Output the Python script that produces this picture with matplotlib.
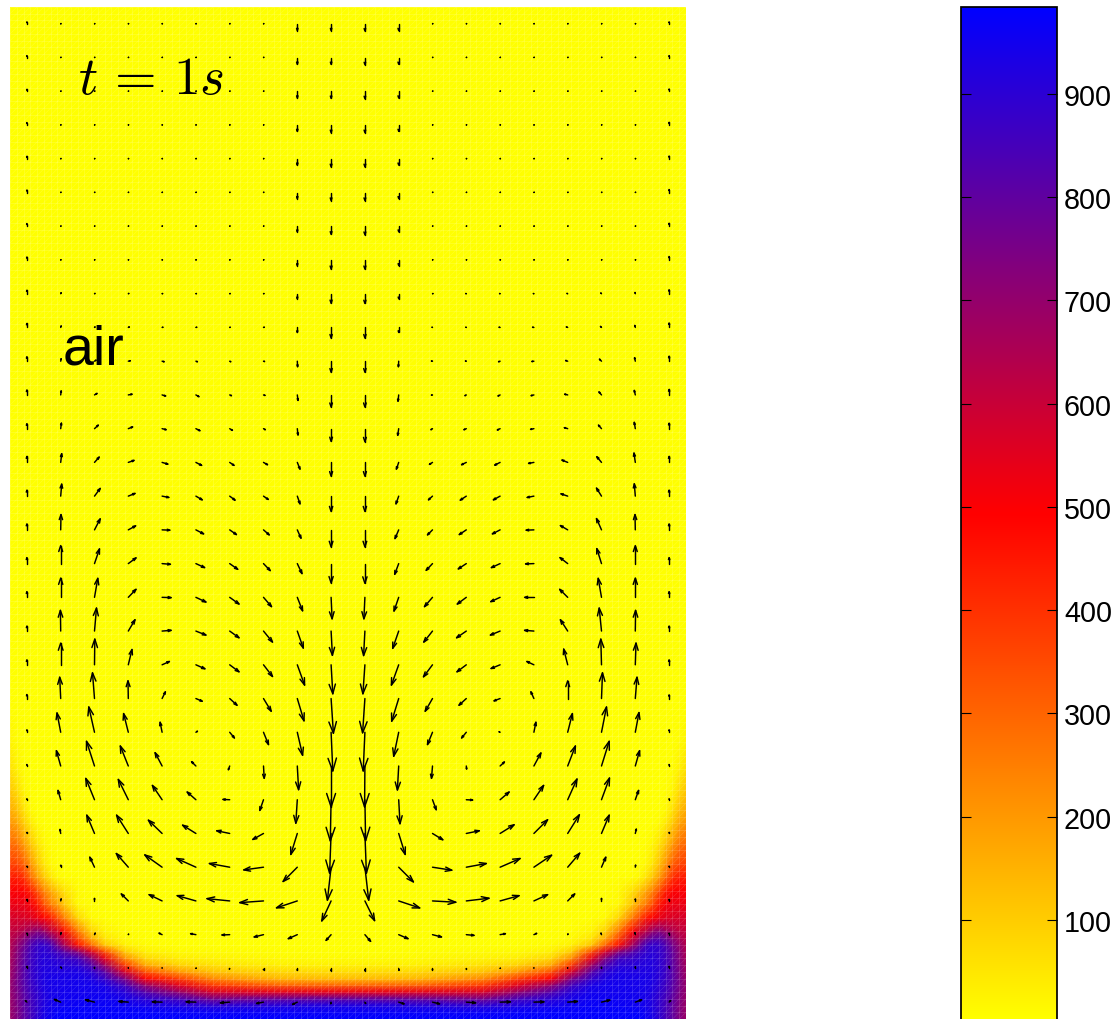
import matplotlib
matplotlib.use('Agg')
import matplotlib.pyplot as plt
import numpy as np
from matplotlib.collections import LineCollection
from matplotlib.colors import LinearSegmentedColormap

plt.rcParams['font.family'] = ['Liberation Sans', 'DejaVu Sans']
plt.rcParams['mathtext.fontset'] = 'cm'

# === temperature (left half, the right half is its mirror) ===
# node positions in mesh cells, the domain is 100 x 150 cells
temp_x = [0, 1, 2, 3, 4, 5, 6, 7, 8, 10, 12, 14, 17, 20, 25, 30, 40, 50]
temp_y = [0, 1, 2, 3, 4, 5, 6, 7, 8, 9, 10, 11, 12, 13, 15, 17, 19, 21, 23, 26, 29, 31, 34, 37, 41, 46, 50, 150]
temp = [
    [690, 740, 800, 850, 900, 940, 965, 984, 984, 984, 984, 984, 984, 984, 984, 984, 984, 984],
    [690, 740, 800, 850, 895, 935, 960, 975, 980, 982, 982, 982, 982, 982, 975, 970, 970, 970],
    [690, 740, 800, 850, 890, 925, 945, 955, 960, 965, 968, 970, 960, 945, 925, 900, 920, 930],
    [690, 745, 800, 850, 890, 920, 940, 950, 955, 958, 960, 960, 940, 900, 850, 760, 790, 800],
    [695, 750, 810, 860, 895, 925, 940, 945, 950, 950, 950, 950, 910, 820, 700, 570, 545, 540],
    [695, 755, 815, 865, 900, 930, 940, 945, 945, 950, 950, 935, 850, 700, 550, 390, 310, 300],
    [690, 755, 820, 870, 905, 930, 940, 940, 940, 945, 930, 880, 740, 500, 370, 230, 140, 130],
    [680, 750, 815, 870, 905, 925, 930, 930, 930, 935, 900, 810, 570, 340, 200, 120, 80, 70],
    [670, 740, 810, 865, 900, 920, 920, 915, 905, 900, 830, 680, 380, 170, 90, 60, 32, 30],
    [660, 730, 800, 860, 895, 915, 910, 895, 880, 860, 730, 540, 220, 80, 35, 25, 12, 10],
    [650, 720, 790, 850, 890, 905, 885, 855, 810, 720, 560, 340, 100, 30, 12, 8, 4, 3],
    [640, 700, 760, 830, 875, 890, 850, 760, 660, 460, 290, 110, 30, 8, 3, 2, 2, 2],
    [625, 660, 710, 770, 810, 800, 740, 660, 570, 350, 160, 50, 10, 3, 2, 2, 2, 2],
    [610, 620, 650, 690, 730, 700, 620, 570, 470, 260, 90, 25, 5, 3, 2, 2, 2, 2],
    [570, 570, 565, 555, 530, 490, 440, 340, 250, 80, 10, 3, 2, 2, 2, 2, 2, 2],
    [530, 530, 530, 510, 450, 340, 250, 190, 110, 15, 4, 2, 2, 2, 2, 2, 2, 2],
    [500, 500, 490, 440, 340, 240, 170, 110, 60, 10, 2, 2, 2, 2, 2, 2, 2, 2],
    [440, 440, 400, 290, 190, 110, 50, 15, 5, 2, 2, 2, 2, 2, 2, 2, 2, 2],
    [370, 360, 310, 210, 120, 50, 15, 5, 2, 2, 2, 2, 2, 2, 2, 2, 2, 2],
    [290, 270, 195, 115, 55, 18, 5, 2, 2, 2, 2, 2, 2, 2, 2, 2, 2, 2],
    [210, 175, 105, 45, 10, 3, 2, 2, 2, 2, 2, 2, 2, 2, 2, 2, 2, 2],
    [165, 125, 60, 12, 3, 2, 2, 2, 2, 2, 2, 2, 2, 2, 2, 2, 2, 2],
    [110, 70, 20, 4, 2, 2, 2, 2, 2, 2, 2, 2, 2, 2, 2, 2, 2, 2],
    [65, 30, 6, 2, 2, 2, 2, 2, 2, 2, 2, 2, 2, 2, 2, 2, 2, 2],
    [25, 8, 2, 2, 2, 2, 2, 2, 2, 2, 2, 2, 2, 2, 2, 2, 2, 2],
    [4, 2, 2, 2, 2, 2, 2, 2, 2, 2, 2, 2, 2, 2, 2, 2, 2, 2],
    [2, 2, 2, 2, 2, 2, 2, 2, 2, 2, 2, 2, 2, 2, 2, 2, 2, 2],
    [2, 2, 2, 2, 2, 2, 2, 2, 2, 2, 2, 2, 2, 2, 2, 2, 2, 2],
]

# === velocity arrows, image pixels, first row is the top of the picture ===
arrow_u = [
    [0, .3, .3, .3, .3, .3, .3, .3, 0, 0, 0, 0, .3, .3, .3, .3, .3, .3, .3, 0],
    [0, .3, .3, .3, .3, .3, .3, .3, 0, 0, 0, 0, .3, .3, .3, .3, .3, .3, .3, 0],
    [0, .3, .3, .3, .3, .3, .3, .3, 0, 0, 0, 0, .3, .3, .3, .3, .3, .3, .3, 0],
    [0, .3, .3, .3, .3, .3, .3, .3, 0, 0, 0, 0, .3, .3, .3, .3, .3, .3, .3, 0],
    [0, .3, .3, .3, .3, .3, .3, .3, 0, 0, 0, 0, .3, .3, .3, .3, .3, .3, .3, 0],
    [0, .3, .3, .3, .3, .3, .3, .3, 0, 0, 0, 0, .3, .3, .3, .3, .3, .3, .3, 0],
    [0, .3, .3, .3, .3, .3, .3, .3, 0, 0, 0, 0, .3, .3, .3, .3, .3, .3, .3, 0],
    [0, .3, .3, .3, .3, .3, .3, .3, 0, 0, 0, 0, .3, .3, .3, .3, .3, .3, .3, 0],
    [0, .5, .5, .5, .5, .5, .5, .5, 0, 0, 0, 0, .5, -.5, -.5, -.5, -.7, -.7, -.3, 0],
    [0, .5, .5, 1, .8, .8, .5, .8, 0, 0, 0, 0, -.5, -.5, -1, -1.3, -1.3, -1, -.5, 0],
    [0, .5, 1.5, 2, 2, 1.5, 1, 1, .3, 0, 0, -.3, -1, -.8, -1.5, -2, -2, -2, -.7, 0],
    [0, .5, 2.5, 3.7, 3.5, 3, 1.7, 1.5, .7, 0, 0, -.7, -1, -1.3, -2, -2.7, -3, -2.5, -1, 0],
    [0, .7, 3.7, 4.3, 4, 4, 2.7, 1.7, .7, 0, 0, -1, -1.5, -2.3, -2.7, -3.3, -3.3, -3, -1, 0],
    [0, 1, 4.7, 5.7, 5.7, 5.7, 4.3, 4, 2.7, 0, 0, -2.3, -3, -4.7, -5.3, -5.3, -5.7, -4.7, -1.3, 0],
    [0, 1, 5.7, 6.7, 6.7, 6.3, 5.3, 4.7, 2.7, 0, 0, -2.7, -4, -6, -6.7, -6.7, -6.7, -5, -1, 0],
    [0, .3, 5.7, 7.3, 7.7, 7.7, 6.7, 5.7, 3.7, 0, 0, -3.7, -5, -7, -7.7, -7.7, -7.3, -5, -.3, 0],
    [0, 0, 5, 7.7, 8.3, 8.7, 8, 6.7, 4.7, 0, 0, -4, -6.3, -8, -8.7, -8.3, -7.7, -4.7, 0, 0],
    [0, 0, 3.3, 7.7, 9, 10, 9.3, 8, 5.3, 1, -1, -4.7, -8, -9, -9.3, -9.3, -8, -3.3, 0, 0],
    [0, -.3, 2, 6.7, 9, 10, 9.3, 9, 6, 1.3, -1.3, -6, -8.7, -9.7, -9.7, -9.3, -7.3, -2.3, .3, 0],
    [0, 0, .3, 3.7, 7.3, 9, 9.3, 9, 7.3, 1.7, -2, -7.3, -9, -9.3, -9, -7, -4, -.7, .7, 0],
    [0, -1, -2, -.3, 3.3, 6.3, 7.3, 7.7, 6.7, 2.3, -2.3, -7, -7.3, -7.3, -6, -3, 0, 1, 1.7, 0],
    [0, -3.7, -5.7, -4.7, -2, 1.5, 4.7, 5, 5.3, 1.7, -1.7, -5, -5, -4.7, -1, 2, 4.7, 5, 3.7, 0],
    [0, -4.3, -8, -8, -7, -4.3, -1.3, .7, 1.3, 0, -.3, -1.3, -1, .3, 4.3, 7, 7.7, 7.7, 4.3, 0],
    [0, -2.7, -8.7, -10, -9.7, -8.7, -6.7, -3.7, -1.5, -.8, .7, 1.3, 3.7, 6.3, 9, 9.7, 9.3, 8, 3.3, 0],
    [0, -.7, -7.7, -11.7, -13.7, -13.3, -13, -10.7, -6.5, -1.5, 1.5, 6.5, 10.3, 13, 14, 13.7, 11.7, 7.7, 1, 0],
    [0, 0, -4.7, -12, -17.3, -19.3, -20.3, -19.7, -14.2, -3.7, 3.8, 14.7, 19.3, 20, 20, 17.7, 12, 4.3, .3, 0],
    [0, .5, 0, -7, -13, -18.7, -22.7, -23.7, -20.8, -9.3, 9.7, 21, 23.3, 22.7, 19, 13.7, 7, 0, 0, 0],
    [0, .5, .7, .3, -3, -5.3, -7.7, -9.3, -9, -5, 5.7, 9.3, 9, 7.7, 5.3, 2.7, .3, -.5, -.5, 0],
    [0, 0, 0, 0, 0, .3, -.3, 0, 0, 0, 0, .3, 0, 0, .3, 0, 0, 0, 0, 0],
    [-1.5, -6.3, -9, -9.3, -9.7, -9.7, -9.3, -7, -4.7, -.3, .7, 5.3, 7, 9.3, 10.3, 10, 9.7, 8.3, 6.3, 1.5],
]
arrow_v = [
    [2, .3, .3, .3, .3, .3, .3, .3, -6.7, -6.7, -7, -6.7, .3, .3, .3, .3, .3, .3, .3, 2],
    [2, .3, .3, .3, .3, .3, .3, .3, -6.7, -6.7, -7, -6.7, .3, .3, .3, .3, .3, .3, .3, 2],
    [2, .3, .3, .3, .3, .3, .3, .3, -6.7, -7, -7.3, -6.7, .3, .3, .3, .3, .3, .3, .3, 2.3],
    [2.5, .3, .3, .3, .3, .3, .3, .3, -6.3, -7.5, -7.5, -6.3, .3, .3, .3, .3, .3, .3, .3, 2.7],
    [2.5, .3, .3, .3, .3, .3, .3, .3, -6.3, -8, -8, -6.3, .3, .3, .3, .3, .3, .3, .3, 2.7],
    [2.5, .3, .3, .3, .3, .3, .3, .3, -6, -8, -8, -6, .3, .3, .3, .3, .3, .3, .3, 3],
    [2.7, .3, .3, .3, .3, .3, .3, .3, -5.5, -8, -8.5, -5.5, .3, .3, .3, .3, .3, .3, .3, 3],
    [3, .3, .3, .3, .3, .3, .3, .3, -5.5, -9, -9, -5.5, .3, .3, .3, .3, .3, .3, .3, 3.5],
    [3.5, 1, .3, .3, .2, .2, .2, .2, -5, -9.5, -9.7, -5, .2, .2, .2, .2, .3, .7, 1.2, 4],
    [4, 1.5, .5, .5, .2, .2, .2, .2, -5, -10.5, -10.5, -5, .2, .2, .2, .2, .5, 1, 2, 4.5],
    [4.5, 2.5, 1, .5, -.5, -.5, -.5, -.3, -5.5, -11, -11, -5.5, .2, .2, -.5, -.3, .7, 2, 3.5, 5],
    [5, 4, 1.5, .7, -1, -1.7, -.7, -.5, -5.5, -12, -12, -6.3, -.2, -.7, -1, -.7, .7, 3, 4.5, 5.5],
    [5, 5.5, 3.5, 1.7, -1, -2, -1.7, -1, -6.3, -12.7, -13, -6.7, -1, -1, -1.3, -.7, 1, 3.5, 6.3, 5.5],
    [6, 8.7, 5.3, 2, -1.7, -3, -3, -2.3, -6.7, -13.7, -13.7, -6.7, -2, -2.3, -2.7, -1, 2.3, 5.7, 9.3, 6],
    [6, 12, 7.7, 2.7, -1.3, -3.7, -4, -3.3, -7.7, -15.3, -15.3, -7.7, -3.7, -4, -3.7, -1.3, 2.3, 8, 12.3, 6],
    [6, 15.3, 11, 4, -.3, -4, -4.7, -5, -8.3, -17, -17, -8.7, -5, -4.7, -4, -.3, 4.3, 11.3, 15.3, 6],
    [6, 18, 14.7, 5.7, -.7, -4, -5.7, -7, -10, -19.3, -19.7, -10.7, -6.7, -5.3, -4, -.3, 6, 15, 18, 6],
    [5.7, 19.3, 19, 8, -.3, -4.7, -6.7, -9.3, -13.5, -21.5, -21.5, -13.7, -9.3, -6.7, -4.3, 0, 8, 19, 19.3, 5.7],
    [5, 20.7, 23, 11.3, .7, -4, -6.7, -11, -17, -24.3, -24.5, -17.3, -11, -6.7, -4, .7, 11.3, 23, 20.7, 5],
    [5, 21.7, 25.7, 15.3, 3.3, -4, -7, -11.7, -20.3, -29, -29, -20.3, -12, -7, -3.7, 3.3, 15.7, 25.7, 21.7, 5],
    [4, 21.3, 25.7, 17.7, 6.7, -2.7, -6.7, -12.7, -22.3, -34.7, -34.3, -22.7, -12.7, -6.7, -2.3, 6.7, 17.7, 25.7, 21.3, 3.7],
    [2.5, 19.3, 25.3, 18.7, 10, 1, -5.7, -12.3, -23, -38.7, -38.7, -24, -12.3, -5.7, .5, 10, 18.7, 25.3, 19.7, 2.5],
    [1.5, 15.3, 24.7, 20, 13.3, 4.3, -3.7, -12.3, -23.7, -41, -41, -24, -12.3, -3, 4, 13, 20, 24.7, 15.3, 1.5],
    [1, 9.3, 21.3, 20.3, 14.3, 7.7, .3, -10.7, -23.5, -41.2, -41, -24, -10, -.3, 7.7, 14.3, 20.7, 21.7, 9.3, 1],
    [1, 4, 18.3, 18.3, 13.3, 8.3, 2.7, -6, -21, -39.7, -39.7, -21, -6.3, 2.7, 8.7, 13.7, 18.7, 18.3, 4.3, 1],
    [1, 2, 10, 13.7, 12.3, 8.7, 3.7, -2.7, -14.3, -33, -33, -14.7, -3, 3.7, 8.7, 12, 14, 10, 2, 1],
    [1.5, 2, 2.5, 7, 6.3, 5.3, 2.3, -1.7, -6.9, -20, -19.7, -7, -1.3, 2.7, 5.3, 6.3, 7, 2.5, 2, 1.5],
    [1.5, 2, 1.5, .5, 1.5, 1, -.3, -2.3, -4, -5.7, -6.7, -4, -2.3, -.7, 1, 1.3, .7, 1.5, 2, 1.5],
    [2, 1.5, 1, .7, .7, .3, -.7, -1.5, -2, -2.3, -2.3, -2, -1.5, -.7, .2, .7, .7, 1.2, 1.7, 2],
    [1.5, 2.7, 2.3, .7, .3, .3, -.7, -1.3, -2.3, -1.5, -1.3, -1.7, -1.7, -.7, .3, .3, .7, 2, 2.3, 1.5],
]

colorbar_ticks = [100, 200, 300, 400, 500, 600, 700, 800, 900]
temp_min, temp_max = 2, 984

# === figure and axes ===
largura, altura = 1120, 1020
fig = plt.figure(figsize=(largura / 100, altura / 100), dpi=100)
ax = fig.add_axes([10 / largura, 0, 676 / largura, 1012 / altura])
# a little below the figure edge, the reference has no bottom line on the bar
cax = fig.add_axes([961 / largura, -2 / altura, 96 / largura, 1014 / altura])

cmap = LinearSegmentedColormap.from_list('calor', ['#ffff00', '#ff0000', '#0000ff'], N=512)

# === temperature field ===
half = np.array(temp, dtype=float)
field = np.hstack([half, half[:, -2::-1]])
xs = np.array(temp_x, dtype=float)
node_x = np.concatenate([xs, 100 - xs[-2::-1]])
mesh = ax.pcolormesh(node_x, np.array(temp_y, dtype=float), field, cmap=cmap,
                     vmin=temp_min, vmax=temp_max, shading='gouraud')

# === seams of the mesh, light lines over the colours ===
ax.vlines(np.arange(0, 101), 0, 150, color='white', lw=0.45, alpha=0.2)
ax.hlines(np.arange(0, 151), 0, 100, color='white', lw=0.45, alpha=0.2)
diagonais = []
for c in range(-100, 150):
    x0, x1 = max(0, -c), min(100, 150 - c)
    diagonais.append([(x0, x0 + c), (x1, x1 + c)])
ax.add_collection(LineCollection(diagonais, colors='white', linewidths=0.35, alpha=0.18))

# === arrows: shaft plus two barbs, open head ===
px_x, px_y = 676 / 100, 1012 / 150
arrow_x = np.arange(2.5, 100, 5)
arrow_y = np.arange(2.5, 150, 5)[::-1]
alpha_head, beta_head = 0.33, 0.33
segmentos = []
for i, y in enumerate(arrow_y):
    for j, x in enumerate(arrow_x):
        u, v = arrow_u[i][j], arrow_v[i][j]
        tip = (x + u / px_x, y + v / px_y)
        b1 = (tip[0] - alpha_head * (u + beta_head * v) / px_x,
              tip[1] - alpha_head * (v - beta_head * u) / px_y)
        b2 = (tip[0] - alpha_head * (u - beta_head * v) / px_x,
              tip[1] - alpha_head * (v + beta_head * u) / px_y)
        segmentos.append([(x, y), tip])
        segmentos.append([b1, tip, b2])
ax.add_collection(LineCollection(segmentos, colors='black', linewidths=1.05, capstyle='round'))

ax.set_xlim(0, 100)
ax.set_ylim(0, 150)
ax.axis('off')

ax.text(10, 137.2, r'$t\,=\,1s$', fontsize=38.5, va='baseline', ha='left', color='black')
ax.text(7.8, 97.1, 'air', fontsize=40, va='baseline', ha='left', color='black')

# === colorbar ===
cb = fig.colorbar(mesh, cax=cax)
cb.set_ticks(colorbar_ticks)
cb.ax.tick_params(direction='in', left=True, right=True, length=7, width=0.8,
                  labelsize=20.7, pad=5, color='black')
cb.outline.set_linewidth(1.25)

fig.savefig('out.png', dpi=100)
